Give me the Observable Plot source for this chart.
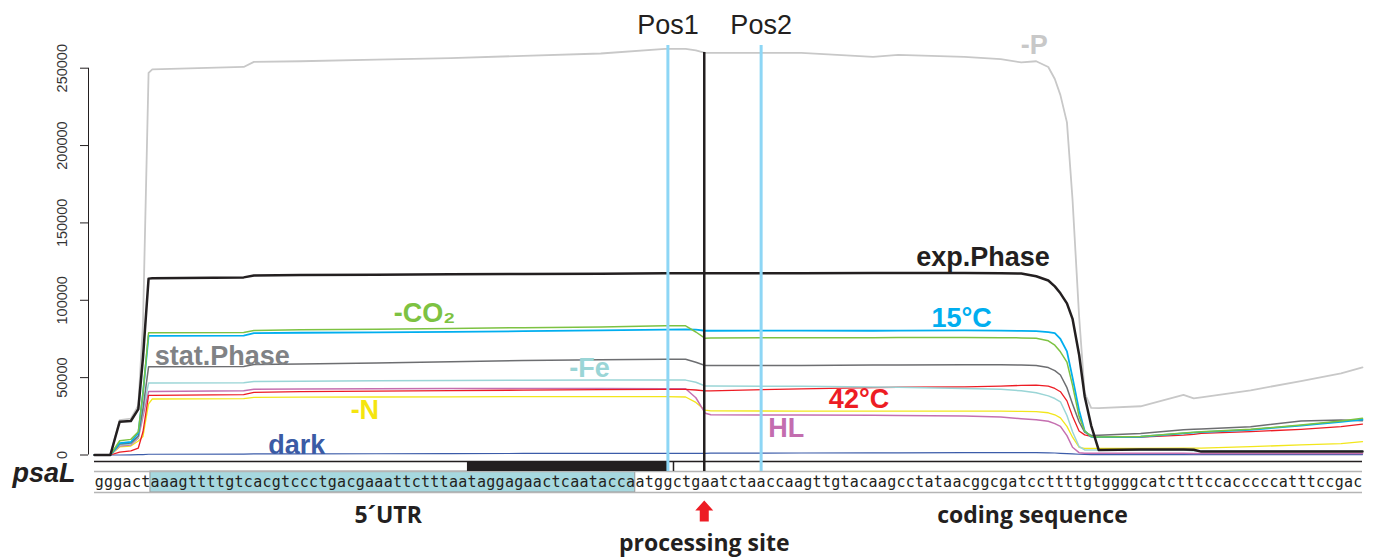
<!DOCTYPE html>
<html><head><meta charset="utf-8">
<script src="https://cdn.jsdelivr.net/npm/d3@7"></script>
<script src="https://cdn.jsdelivr.net/npm/@observablehq/plot@0.6"></script>
<style>html,body{margin:0;padding:0;background:#fff} #chart svg{display:block}</style>
</head><body><div id="chart"></div>
<script>
// nucleotide positions (0 = first base of the shown sequence) at which coverage was read
const positions = [0.0, 1.7, 2.7, 3.9, 4.7, 5.2, 5.8, 6.2, 16.0, 17.1, 22.1, 30.2, 38.2, 46.0, 54.3, 61.2, 63.4, 64.5, 65.5, 66.1, 75.8, 83.5, 86.2, 93.3, 97.2, 99.4, 101.0, 102.3, 103.0, 103.6, 104.3, 104.9, 105.6, 106.2, 106.9, 107.7, 112.2, 116.8, 117.9, 118.7, 124.0, 129.4, 133.7, 136.0];

const covP = [0, 0, 22600, 23500, 32000, 85000, 247000, 249300, 250800, 254100, 254500, 255600, 256500, 258000, 259500, 262500, 262500, 261500, 259900, 259900, 259900, 257300, 258600, 257300, 255800, 253700, 254500, 250800, 243000, 232600, 215000, 165000, 90000, 40000, 30400, 30300, 31500, 38800, 36600, 37300, 41800, 47800, 52800, 56600];
const covExp = [0, 0, 21500, 22000, 29700, 63000, 114000, 114300, 114800, 116000, 116300, 116500, 116800, 117000, 117200, 117500, 117500, 117500, 117500, 117500, 117500, 117600, 117600, 117600, 117500, 117300, 115500, 112800, 109000, 104500, 98000, 88000, 65000, 38000, 19000, 3300, 3500, 3500, 3400, 2200, 2200, 2200, 2200, 2200];
const covCO2 = [0, 0, 9200, 10100, 15000, 40000, 79000, 79000, 79200, 80500, 81000, 81300, 81800, 82300, 82800, 83500, 83500, 79500, 75400, 75600, 75800, 75800, 76000, 76000, 75800, 75700, 75400, 73800, 71000, 66700, 60000, 45000, 25000, 15500, 12000, 11600, 12000, 14200, 14700, 15000, 16600, 19400, 22000, 23700];
const cov15 = [0, 0, 7700, 8400, 14200, 40000, 77000, 77000, 77200, 78800, 79000, 79300, 79600, 80000, 80500, 81000, 81200, 81000, 80300, 80300, 80400, 80300, 80400, 80500, 80400, 80200, 80000, 79400, 78800, 75000, 67000, 50000, 29000, 15500, 11800, 11500, 11800, 14000, 14500, 14800, 16300, 19000, 21500, 22800];
const covStat = [0, 0, 7100, 7700, 12300, 30000, 57000, 57000, 57200, 58500, 58800, 59500, 60300, 61000, 61500, 61900, 61900, 60000, 57900, 57900, 57900, 58100, 58200, 58300, 58300, 58100, 57800, 56500, 54500, 51700, 43500, 33000, 21500, 14800, 12600, 12800, 13900, 16300, 16600, 16800, 18300, 22000, 22600, 22200];
const covFe = [0, 0, 6500, 7100, 11600, 28000, 46500, 46500, 46700, 47500, 47700, 48000, 48200, 48300, 48400, 48500, 48400, 47000, 44600, 44600, 44400, 44000, 43800, 43000, 42500, 41500, 40200, 38200, 36500, 34400, 25500, 15000, 5500, 3300, 3200, 3200, 3200, 3200, 2800, 2600, 2600, 2600, 2600, 2600];
const cov42 = [0, 0, 1900, 2600, 4500, 15000, 38500, 38500, 39000, 40500, 41000, 41300, 41600, 41900, 42200, 42400, 42400, 42000, 41500, 41500, 42800, 43500, 43800, 44000, 44500, 45000, 45200, 44500, 43000, 40900, 35000, 25000, 15500, 13000, 12000, 11400, 11600, 12800, 13300, 14000, 15100, 16600, 18300, 20000];
const covN = [0, 0, 5200, 5800, 9000, 12000, 33000, 36200, 36500, 37300, 37400, 37500, 37600, 37700, 37700, 37700, 37500, 34000, 29000, 28500, 28400, 28400, 28400, 28400, 28400, 28200, 28000, 27300, 26000, 24000, 18500, 11500, 5000, 4300, 4300, 4300, 4300, 4400, 4400, 4500, 5400, 6500, 7400, 8600];
const covHL = [0, 0, 5800, 6500, 11000, 25000, 41000, 41000, 41500, 42500, 42700, 42800, 43000, 43000, 43000, 42900, 42800, 37000, 27000, 26000, 25800, 25700, 25600, 25200, 24500, 23500, 22800, 21800, 20300, 18500, 12500, 5000, 1500, 1100, 1100, 1100, 1100, 1100, 1000, 900, 900, 900, 900, 900];
const covDark = [0, 0, 0, 100, 200, 300, 500, 500, 600, 700, 700, 800, 900, 1000, 1000, 1000, 1000, 1000, 1100, 1200, 1300, 1400, 1400, 1500, 1500, 1500, 1500, 1400, 1300, 1100, 900, 700, 500, 400, 300, 300, 300, 300, 300, 300, 300, 300, 300, 300];

// series (drawing order), their label text, colours
const seriesNames = ["-P", "dark", "-N", "HL", "42°C", "-Fe", "stat.Phase", "15°C", "-CO₂", "exp.Phase"];
const seriesValues = [covP, covDark, covN, covHL, cov42, covFe, covStat, cov15, covCO2, covExp];
const lineColors = ["#c8c8c8", "#3c5ca9", "#f2e61c", "#c56fb0", "#ed1c24", "#9ad5d6", "#6d6e71", "#00aeef", "#7dc242", "#231f20"];
const labelColors = ["#c8c8c8", "#3b5ba5", "#f5e50f", "#c36daf", "#ed1c24", "#9ad5d6", "#808285", "#00aeef", "#7dc242", "#231f20"];
const lineWidths = [1.8, 1.2, 1.3, 1.5, 1.3, 1.5, 1.5, 1.8, 1.5, 2.5];
// label anchors (nucleotide position, coverage)
const labelPos = [100.8, 21.7, 29.0, 74.2, 82.0, 53.1, 13.7, 93.0, 35.4, 95.3];
const labelVal = [264600, 6100, 28800, 17100, 35900, 55900, 63700, 88200, 91400, 127600];

// y ticks
const yTicks = [0, 50000, 100000, 150000, 200000, 250000];

// psaL sequence and features
const sequence = "gggactaaagttttgtcacgtccctgacgaaattctttaataggagaactcaatacca" + "atggctgaatctaaccaagttgtacaagcctataacggcgatccttttgtggggcatctttccacccccatttccgac";
const utr = [6, 58];          // 5' UTR highlight (nucleotides)
const darkBar = [40, 61.5];   // black feature bar
const featureTick = [62.1];
const posNames = ["Pos1", "Pos2"];
const posX = [61.5, 71.5];
const processingSite = 65.4;
const regionNames = ["5´UTR", "coding sequence"];
const regionX = [31.5, 100.6];

const table = seriesNames.map((name, s) => positions.map((p, i) => ({series: name, pos: p, value: seriesValues[s][i]})));

const arrowSymbol = {draw(ctx) {
  ctx.moveTo(0, -11); ctx.lineTo(9, -1); ctx.lineTo(4.5, -1); ctx.lineTo(4.5, 10);
  ctx.lineTo(-4.5, 10); ctx.lineTo(-4.5, -1); ctx.lineTo(-9, -1); ctx.closePath();
}};

const ink = "#231f20";
const boldFont = "Open Sans, Noto Sans, sans-serif";

const marks = [];
// y axis
marks.push(Plot.ruleX([0], {y1: yTicks[0], y2: yTicks[yTicks.length - 1], dx: -6, stroke: ink, strokeWidth: 1}));
marks.push(Plot.axisY({ticks: yTicks, tickSize: 8, tickFormat: () => "", label: null, dx: -6, stroke: ink, strokeWidth: 1}));
marks.push(Plot.text(yTicks, {y: d => d, text: d => String(d), frameAnchor: "left", dx: -32, rotate: -90, fontSize: 14.5, fill: "#333", textAnchor: "middle"}));

// bottom track
marks.push(Plot.rect([utr], {x1: d => d[0], x2: d => d[1], insetTop: 426, fill: "#a6d8df", stroke: "#9a9a9a", strokeWidth: 1}));
marks.push(Plot.ruleY([0], {dy: 16.5, stroke: "#b5b5b5", strokeWidth: 1.5}));
marks.push(Plot.ruleY([0], {dy: 37.5, stroke: "#b5b5b5", strokeWidth: 1.5}));
marks.push(Plot.rect([darkBar], {x1: d => d[0], x2: d => d[1], insetTop: 416, insetBottom: 21, fill: ink}));
marks.push(Plot.ruleX(featureTick, {insetTop: 416, insetBottom: 21, stroke: ink, strokeWidth: 1.5}));
marks.push(Plot.ruleY([0], {dy: 6.5, stroke: ink, strokeWidth: 1.5}));
marks.push(Plot.text(sequence.split(""), {x: (d, i) => i + 0.5, y: () => 0, text: d => d, dy: 27, fontFamily: "DejaVu Sans Mono, monospace", fontSize: 15, fill: ink}));

// coverage lines
table.forEach((rows, s) => {
  marks.push(Plot.line(rows, {x: "pos", y: "value", stroke: lineColors[s], strokeWidth: lineWidths[s], strokeLinejoin: "round"}));
});

// position markers
marks.push(Plot.ruleX(posX, {stroke: "#8dd6f5", strokeWidth: 3, insetBottom: 21}));
marks.push(Plot.ruleX([processingSite], {stroke: ink, strokeWidth: 2.5, insetTop: 7, insetBottom: 21}));
marks.push(Plot.text(posNames, {x: (d, i) => posX[i], text: d => d, frameAnchor: "top", dy: -31, fontSize: 27, fill: ink}));

// series labels
marks.push(Plot.text(seriesNames, {x: (d, i) => labelPos[i], y: (d, i) => labelVal[i], text: d => d, fill: (d, i) => labelColors[i], fontSize: 27, fontWeight: "bold"}));

// annotations below
marks.push(Plot.text(["psaL"], {text: d => d, frameAnchor: "bottom-left", dx: -82, dy: -10.5, textAnchor: "start", fontSize: 27, fontWeight: "bold", fontStyle: "italic", fill: ink}));
marks.push(Plot.text(regionNames, {x: (d, i) => regionX[i], y: () => 0, text: d => d, dy: 60.5, fontFamily: boldFont, fontWeight: "bold", fontSize: 23, fill: ink}));
marks.push(Plot.dot([processingSite], {x: d => d, y: () => 0, dy: 56.5, symbol: arrowSymbol, fill: "#ed1c24", stroke: "none"}));
marks.push(Plot.text(["processing site"], {x: () => processingSite, y: () => 0, text: d => d, dy: 88.5, fontFamily: boldFont, fontWeight: "bold", fontSize: 23, fill: ink}));

const chart = Plot.plot({
  width: 1376, height: 557,
  marginLeft: 94, marginRight: 14, marginTop: 45, marginBottom: 65,
  x: {domain: [0, 136], range: [94, 1362], axis: null},
  y: {domain: [0, 250000], range: [454.5, 67.7], axis: null},
  style: {background: "white", fontFamily: "Liberation Sans, Arial, sans-serif", overflow: "visible"},
  marks
});
document.getElementById("chart").append(chart);
</script>
</body></html>
